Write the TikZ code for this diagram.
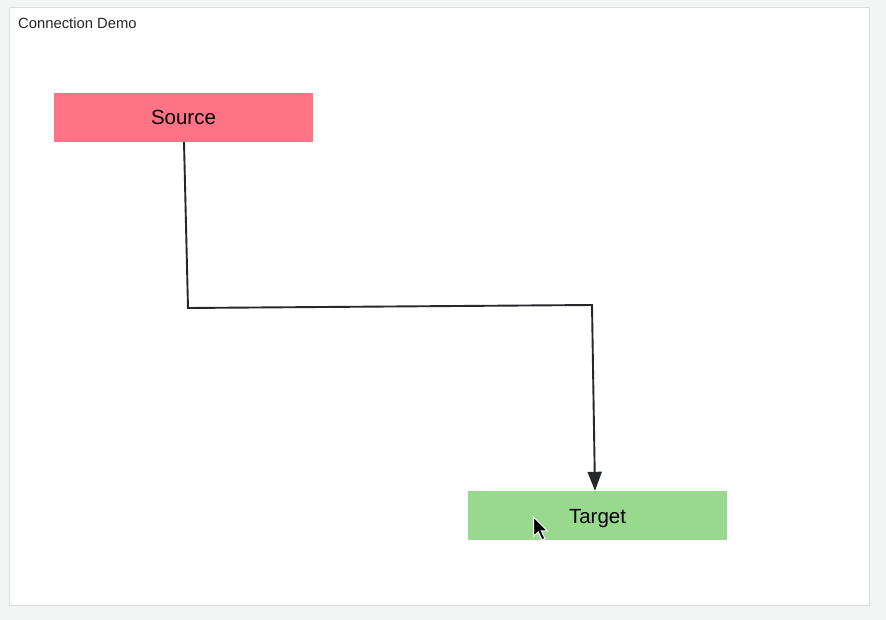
\documentclass[tikz,border=0pt]{standalone}
\usepackage{fontspec}
\setmainfont{Liberation Sans}
\usetikzlibrary{arrows.meta}
\definecolor{pagebg}{HTML}{F3F4F4}
\definecolor{panelline}{HTML}{DCDDDD}
\definecolor{srcfill}{HTML}{FF7385}
\definecolor{tgtfill}{HTML}{98D98E}
\definecolor{inkline}{HTML}{25272B}
\tikzset{
  box/.style={draw=none, minimum width=259pt, minimum height=49pt, inner sep=0pt, font=\fontsize{20.5pt}{22pt}\selectfont, text=black, text depth=0pt, text height=15pt},
  link/.style={draw=inkline, line width=1.9pt, -{Triangle[length=19pt,width=14pt]}},
}
\begin{document}
\begin{tikzpicture}[x=1pt,y=-1pt]
\useasboundingbox (0,0) rectangle (886,620);
\fill[pagebg] (0,0) rectangle (886,620);
\draw[panelline, fill=white, line width=1pt] (9.5,7.5) rectangle (869.5,605.5);
\node[anchor=west, inner sep=0pt, font=\fontsize{14.8pt}{16pt}\selectfont, text=inkline] (title) at (18,23.5) {Connection Demo};
\node[box, fill=srcfill] (src) at (183.5,117.5) {Source};
\node[box, fill=tgtfill] (tgt) at (597.5,515.5) {Target};
\coordinate (b1) at (188,308);
\coordinate (b2) at (592,305);
\draw[link] ([xshift=0.5pt]src.south) -- (b1) -- (b2) -- ([xshift=-2.5pt]tgt.north);
% mouse pointer
\begin{scope}[shift={(533.5,517)}, scale=1.2]
\fill[black, draw=white, line width=1pt, line join=miter] (0,0) -- (0,16) -- (4,12.5) -- (7,19) -- (9.5,18) -- (6.5,11.5) -- (11.5,11.5) -- cycle;
\end{scope}
\end{tikzpicture}
\end{document}
